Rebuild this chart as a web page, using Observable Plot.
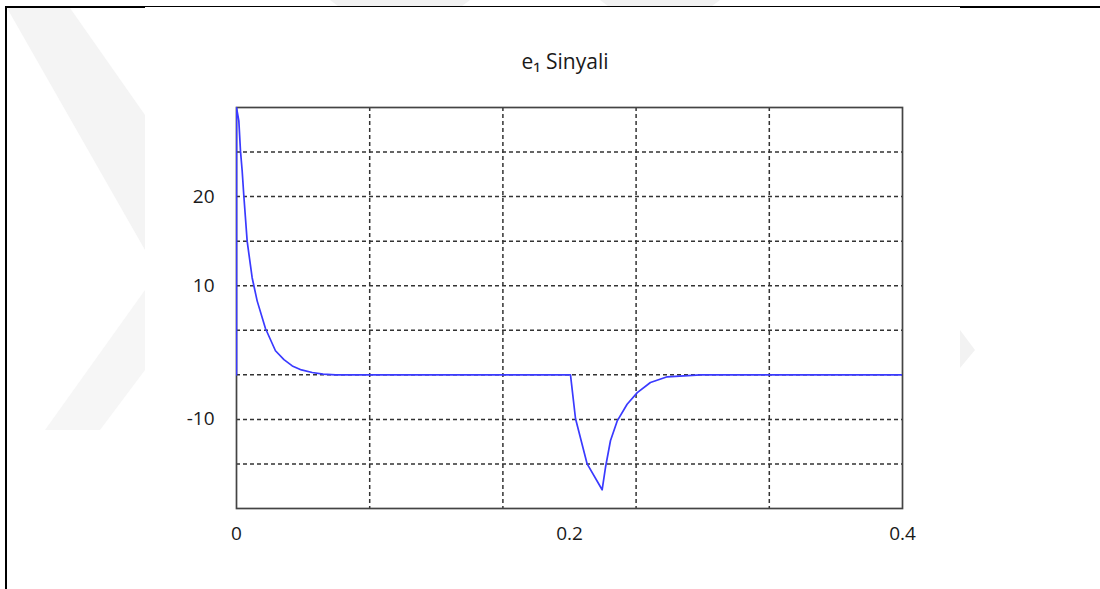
<!DOCTYPE html>
<html>
<head>
<meta charset="utf-8">
<script src="https://cdn.jsdelivr.net/npm/d3@7"></script>
<script src="https://cdn.jsdelivr.net/npm/@observablehq/plot@0.6"></script>
<style>
  body { margin: 0; background: #fff; }
  #wrap { position: relative; width: 1100px; height: 589px; overflow: hidden; background: #fff; font-family: "Open Sans", "Noto Sans", sans-serif; }
  #wm { position: absolute; left: 0; top: 0; z-index: 0; }
  #sheet { position: absolute; left: 145px; top: 7px; width: 815px; height: 590px; background: #fff; z-index: 1; }
  #title { position: absolute; left: 0; width: 1130px; top: 47px; text-align: center; font-size: 21px; color: #1a1a1a; z-index: 4; }
  #bl { position: absolute; left: 5px; top: 6px; width: 2px; height: 600px; background: #000; z-index: 3; }
  #bt1 { position: absolute; left: 5px; top: 6px; width: 140px; height: 2px; background: #000; z-index: 3; }
  #bt2 { position: absolute; left: 145px; top: 6px; width: 815px; height: 1px; background: #000; z-index: 3; }
  #bt3 { position: absolute; left: 960px; top: 6px; width: 140px; height: 2px; background: #000; z-index: 3; }
  #chart { position: absolute; left: 0; top: 0; z-index: 2; }
</style>
</head>
<body>
<div id="wrap">
  <svg id="wm" width="1100" height="589">
    <polygon points="7,8 70,8 145,115 145,250" fill="#f4f4f4"/>
    <polygon points="145,290 145,370 100,430 45,430" fill="#f6f6f6"/>
    <polygon points="330,0 470,0 462,6 338,6" fill="#f2f2f2"/>
    <polygon points="600,0 720,0 712,6 608,6" fill="#f2f2f2"/>
    <polygon points="960,330 975,350 960,368" fill="#f2f2f2"/>
  </svg>
  <div id="sheet"></div>
  <div id="bl"></div><div id="bt1"></div><div id="bt2"></div><div id="bt3"></div>
  <div id="title">e₁ Sinyali</div>
  <div id="chart"></div>
</div>
<script>
// time (s) and e1 signal values
const time = [0, 0, 0.0014, 0.0024, 0.0034, 0.0044, 0.0064, 0.0094, 0.0124, 0.0174, 0.0234, 0.0285, 0.0335, 0.039, 0.0455, 0.052, 0.0595,
              0.2006, 0.2036, 0.2106, 0.2196, 0.2216, 0.2246, 0.2286, 0.2346, 0.2407, 0.2486, 0.2587, 0.2787, 0.4];
const e1   = [0, 30, 28.5, 25.1, 22.9, 20.1, 15.0, 10.9, 8.3, 5.2, 2.7, 1.7, 1.0, 0.55, 0.26, 0.08, 0,
              0, -4.9, -10.0, -12.9, -10.4, -7.4, -5.2, -3.3, -2.0, -0.86, -0.22, 0, 0];

const xGrid = [0.08, 0.16, 0.24, 0.32];
const yGrid = [-10, -5, 0, 5, 10, 15, 20, 25];
const xTickValues = [0, 0.2, 0.4];
const xTickLabels = ["0", "0.2", "0.4"];
const yTickValues = [20, 10, -5];
const yTickLabels = ["20", "10", "-10"];

const data = time.map((t, i) => ({t, v: e1[i]}));

const chart = Plot.plot({
  width: 1100,
  height: 589,
  marginLeft: 236,
  marginRight: 198,
  marginTop: 107,
  marginBottom: 81,
  style: {background: "transparent", fontFamily: "'Open Sans', 'Noto Sans', sans-serif", fontSize: "19px", color: "#1a1a1a"},
  x: {domain: [0, 0.4]},
  y: {domain: [-15, 30]},
  marks: [
    Plot.ruleX(xGrid, {stroke: "#333", strokeWidth: 1.5, strokeDasharray: "4,3"}),
    Plot.ruleY(yGrid, {stroke: "#333", strokeWidth: 1.5, strokeDasharray: "4,3"}),
    Plot.frame({stroke: "#444", strokeWidth: 1.7}),
    Plot.line(data, {x: "t", y: "v", stroke: "#3a3aff", strokeWidth: 1.7, clip: true}),
    Plot.axisX(xTickValues, {tickSize: 0, tickPadding: 18, fontSize: 19, fill: "#1a1a1a",
      tickFormat: (d) => xTickLabels[xTickValues.indexOf(d)], label: null}),
    Plot.axisY(yTickValues, {tickSize: 0, tickPadding: 22, fontSize: 19, fill: "#1a1a1a",
      tickFormat: (d) => yTickLabels[yTickValues.indexOf(d)], label: null})
  ]
});
document.getElementById("chart").appendChild(chart);
</script>
</body>
</html>
